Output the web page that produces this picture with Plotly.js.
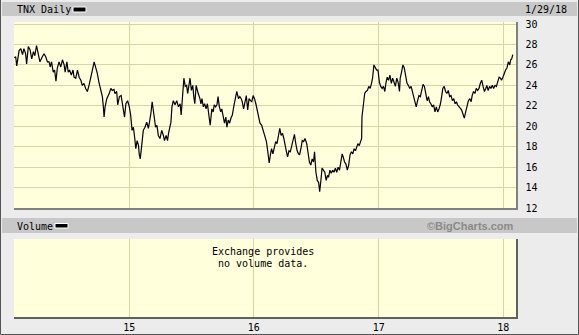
<!DOCTYPE html>
<html>
<head>
<meta charset="utf-8">
<script src="https://cdn.plot.ly/plotly-3.0.1.min.js"></script>
<style>html,body{margin:0;padding:0;background:#ececec;}#chart{width:579px;height:335px;}</style>
</head>
<body>
<div id="chart"></div>
<script>
// Start date of the series (first trading day shown)
const startDate = '2014-01-29';
// Day offsets from startDate
const days = [0,4,7,14,19,24,28,33,36,41,46,51,56,60,65,70,75,82,87,92,97,102,105,109,114,118,122,126,131,136,141,146,149,154,158,162,167,172,175,180,185,190,195,199,204,209,214,219,224,229,234,238,243,248,253,258,261,263,266,271,278,283,287,292,
295,300,303,308,313,318,323,327,332,337,341,345,349,353,356,360,364,366,369,373,378,383,388,393,396,400,404,408,411,414,418,422,427,432,437,440,445,449,452,456,459,462,466,471,476,481,486,489,493,497,501,505,508,512,515,519,523,526,529,533,536,539,544,547,550,554,558,562,566,570,574,
579,583,586,590,594,597,601,605,608,612,616,620,623,627,631,635,639,643,647,652,657,661,665,668,672,676,680,684,688,692,696,700,704,708,710,715,720,725,730,735,739,743,747,751,754,758,762,766,770,774,778,782,786,790,793,797,801,805,809,813,817,821,825,829,833,836,840,844,848,852,
857,861,865,869,873,877,880,884,888,892,895,898,902,906,910,914,918,921,925,929,933,937,941,945,949,953,957,961,964,968,972,976,980,984,988,992,996,1000,1004,1007,1011,1015,1018,1019,1023,1027,1031,1035,1039,1043,1047,1050,1054,1058,1062,1066,1070,1074,1078,1082,1086,1089,1093,1097,1101,1105,1109,1113,1117,1121,1125,1129,
1131,1135,1139,1143,1147,1151,1155,1159,1163,1167,1171,1174,1178,1182,1186,1190,1194,1198,1202,1206,1210,1214,1217,1221,1225,1229,1233,1237,1241,1245,1249,1253,1256,1260,1264,1268,1272,1276,1280,1284,1288,1292,1296,1299,1303,1307,1311,1315,1319,1323,1327,1331,1335,1339,1342,1346,1350,1354,1358,1362,1366,1370,1374,1378,1382,1385,1389,1393,1397,1401,1405,1409,1413,1417,1421,1425,1428,1432,1436,1440,1444,1448,1452,1455,1458,1461];
// TNX close values (yield x10)
const tnx = [26.7,26.8,25.9,27.4,27.6,27.0,27.6,27.1,26.1,27.8,27.5,26.6,27.3,26.9,27.9,27.1,26.3,26.8,27.1,26.8,26.3,26.3,25.8,26.3,25.3,25.5,24.4,25.7,26.3,25.8,26.5,26.0,25.3,26.3,25.3,25.5,25.0,25.5,24.8,24.7,25.5,24.8,24.5,24.0,24.2,23.7,23.4,24.0,24.8,25.7,26.3,25.8,25.2,24.3,23.5,22.9,21.9,20.9,21.9,22.7,23.2,23.7,23.5,23.6,
23.2,23.4,22.1,22.9,23.0,21.9,20.9,22.2,22.5,21.9,21.1,19.6,19.9,18.8,17.8,18.6,18.1,17.3,16.8,18.0,19.6,19.9,20.4,19.8,20.3,21.2,22.4,21.2,20.7,19.9,20.1,19.1,18.8,19.6,19.1,18.6,19.1,18.6,19.3,19.8,20.4,21.9,22.5,22.1,22.5,21.9,22.2,21.1,23.4,24.7,23.9,24.0,23.2,24.2,24.7,23.5,24.0,22.9,22.2,24.0,23.5,23.2,22.7,22.2,22.7,21.9,22.2,21.7,22.2,21.2,20.1,
21.7,21.4,22.1,21.9,22.1,22.9,21.9,21.4,21.7,20.8,20.3,20.9,19.9,20.6,20.3,20.8,21.1,21.9,22.7,23.4,22.7,22.9,22.7,22.4,21.7,22.5,23.0,21.6,22.7,22.5,22.4,23.0,22.7,22.2,21.9,21.1,20.3,20.1,19.6,19.1,18.5,17.5,16.4,17.3,17.8,17.3,18.0,18.5,18.3,19.3,19.8,19.1,19.3,18.8,18.1,17.6,17.0,17.6,17.5,18.0,18.6,19.2,18.3,17.6,17.3,17.2,17.8,18.6,18.5,18.8,
18.3,17.2,16.5,16.2,16.8,16.5,17.5,15.5,14.7,14.5,13.6,14.5,15.9,15.7,15.5,14.7,15.2,15.0,15.7,15.4,15.7,15.5,15.9,15.5,16.0,15.7,16.8,17.3,17.0,16.5,16.3,15.7,16.2,17.2,17.5,17.3,17.8,17.6,18.0,18.3,18.1,18.5,18.8,20.9,22.2,23.2,23.4,23.5,23.9,23.7,24.2,24.7,26.0,25.7,25.5,25.5,24.3,23.9,23.7,23.9,23.4,24.2,24.8,24.5,25.0,24.2,24.7,24.3,23.9,24.7,24.3,23.4,
24.7,25.3,26.0,25.7,24.7,24.2,24.0,23.7,23.9,23.4,22.7,22.4,21.9,22.5,23.0,22.9,23.7,24.1,23.9,23.2,22.5,22.9,22.4,22.2,21.9,22.1,21.4,21.9,21.4,21.7,22.2,23.0,23.7,23.9,23.4,23.2,23.5,22.9,23.0,22.5,22.7,22.2,22.4,22.1,21.9,21.7,21.6,21.2,20.8,21.4,22.1,22.5,22.7,22.4,23.0,23.4,23.2,23.7,23.5,23.7,24.2,24.5,23.9,23.4,23.7,24.0,23.5,23.9,23.7,24.0,23.7,24.0,23.9,24.3,24.8,24.7,24.5,24.8,25.2,25.5,25.7,26.3,26.0,26.5,26.6,27.0];
// Axis ticks
const yearTicks = ['2015-01-01','2016-01-01','2017-01-01','2018-01-01'];
const yearLabels = ['15','16','17','18'];
const priceTicks = [12,14,16,18,20,22,24,26,28,30];
const xRange = ['2014-01-28','2018-02-07 12:00'];
const lastDate = '1/29/18';

const base = Date.UTC(2014,0,29);
const dates = days.map(d => new Date(base + d*864e5).toISOString().slice(0,10));

const MONO = 'DejaVu Sans Mono';
const grid = '#d6d6a4';
const trace = {x: dates, y: tnx, xaxis:'x', yaxis:'y', type:'scatter', mode:'lines',
  line:{color:'#000', width:1.2}, hoverinfo:'skip', showlegend:false};
const volDummy = {x: [], y: [], xaxis:'x2', yaxis:'y2', type:'scatter', mode:'lines', showlegend:false};

function px(v){return (v-14)/502;}
function py(v){return (317-v)/295;}

const layout = {
  width:579, height:335, margin:{l:14, r:63, t:22, b:18},
  paper_bgcolor:'#ececec', plot_bgcolor:'#ffffdc',
  font:{family:MONO, size:10, color:'#000'},
  showlegend:false,
  xaxis:{type:'date', range:xRange, domain:[0,1], anchor:'y', tickvals:yearTicks, showticklabels:false,
    showgrid:true, gridcolor:grid, gridwidth:1, zeroline:false, showline:true, linecolor:'#808080', linewidth:1.5, ticks:''},
  xaxis2:{type:'date', range:xRange, domain:[0,1], anchor:'y2', matches:'x', tickvals:yearTicks, ticktext:yearLabels,
    showgrid:true, gridcolor:grid, gridwidth:1, zeroline:false, showline:true, linecolor:'#606060', linewidth:1.5, ticks:'',
    tickfont:{family:MONO, size:10, color:'#000'}},
  yaxis:{domain:[py(208),1], range:[12,30.2], side:'right', anchor:'x', tickvals:priceTicks, showgrid:true, gridcolor:grid, gridwidth:1,
    zeroline:false, showline:true, linecolor:'#808080', linewidth:1.5, ticks:'', ticklabelstandoff:6,
    tickfont:{family:MONO, size:10, color:'#000'}},
  yaxis2:{domain:[0,py(239)], range:[0,1], side:'right', anchor:'x2', showticklabels:false, showgrid:false, zeroline:false,
    showline:true, linecolor:'#606060', linewidth:1.5, ticks:''},
  shapes:[
    {type:'rect', xref:'paper', yref:'paper', x0:px(2), x1:px(577), y0:py(16), y1:py(2), fillcolor:'#c8c8c8', line:{width:0}, layer:'below'},
    {type:'rect', xref:'paper', yref:'paper', x0:px(2), x1:px(577), y0:py(233), y1:py(218), fillcolor:'#c8c8c8', line:{width:0}, layer:'below'},
    {type:'rect', xref:'paper', yref:'paper', x0:px(73), x1:px(86), y0:py(12), y1:py(7), fillcolor:'#000', line:{color:'#fff', width:1}},
    {type:'rect', xref:'paper', yref:'paper', x0:px(55), x1:px(68), y0:py(228), y1:py(223.5), fillcolor:'#000', line:{color:'#fff', width:1}},
    {type:'path', xref:'paper', yref:'paper', path:`M ${px(0.5)} ${py(0)} L ${px(0.5)} ${py(334.5)} L ${px(578.5)} ${py(334.5)} L ${px(578.5)} ${py(0)}`,
      line:{color:'#555', width:1}}
  ],
  annotations:[
    {text:'TNX Daily', xref:'paper', yref:'paper', x:px(15), y:py(9.5), xanchor:'left', yanchor:'middle', showarrow:false, font:{family:MONO, size:10}},
    {text:lastDate, xref:'paper', yref:'paper', x:px(523), y:py(9.5), xanchor:'left', yanchor:'middle', showarrow:false, font:{family:MONO, size:10}},
    {text:'Volume', xref:'paper', yref:'paper', x:px(15), y:py(226), xanchor:'left', yanchor:'middle', showarrow:false, font:{family:MONO, size:10}},
    {text:'<b>©BigCharts.com</b>', xref:'paper', yref:'paper', x:px(516), y:py(225.5), xanchor:'right', yanchor:'middle', showarrow:false, font:{family:'Liberation Sans', size:11, color:'#8a8a8a'}},
    {text:'Exchange provides', xref:'paper', yref:'paper', x:px(263), y:py(251.5), xanchor:'center', yanchor:'middle', showarrow:false, borderpad:0, font:{family:MONO, size:10}},
    {text:'no volume data.', xref:'paper', yref:'paper', x:px(263), y:py(263.5), xanchor:'center', yanchor:'middle', showarrow:false, borderpad:0, font:{family:MONO, size:10}}
  ]
};
Plotly.newPlot('chart', [trace, volDummy], layout, {staticPlot:true, displayModeBar:false});
</script>
</body>
</html>
